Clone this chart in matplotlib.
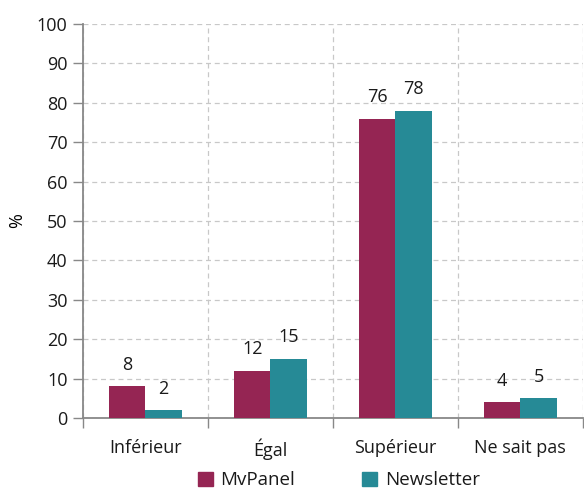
import numpy as np
from matplotlib import pyplot as plt
from matplotlib.patches import Patch

categories = ["Inférieur", "Égal", "Supérieur", "Ne sait pas"]
mvpanel = [8, 12, 76, 4]
newsletter = [2, 15, 78, 5]
series_names = ["MvPanel", "Newsletter"]
colors = ["#952553", "#268A96"]

plt.rcParams['font.family'] = ['Open Sans', 'DejaVu Sans']
plt.rcParams['text.color'] = "#1a1a1a"
plt.rcParams['xtick.labelcolor'] = "#1a1a1a"
plt.rcParams['ytick.labelcolor'] = "#1a1a1a"

fig = plt.figure(figsize=(5.84, 4.90), dpi=100)
ax = fig.add_axes([0.142, 0.147, 0.856, 0.804])

x = np.arange(len(categories))
w = 0.29
b1 = ax.bar(x - w/2, mvpanel, w, color=colors[0], zorder=3)
b2 = ax.bar(x + w/2, newsletter, w, color=colors[1], zorder=3)

# value labels above the bars
for bars, vals in [(b1, mvpanel), (b2, newsletter)]:
    for bar, v in zip(bars, vals):
        ax.annotate(str(v), (bar.get_x() + bar.get_width()/2, v),
                    xytext=(0, 9), textcoords="offset points",
                    ha="center", va="bottom", fontsize=13)

ax.set_xlim(-0.5, 3.5)
ax.set_ylim(0, 100)
ax.set_yticks(range(0, 101, 10))
ax.set_xticks(np.arange(-0.5, 3.6, 1.0))
ax.set_xticklabels([])
ax.set_xticks(x, minor=True)
ax.set_xticklabels(categories, minor=True)
ax.tick_params(axis="x", which="minor", length=0, pad=15, labelsize=13)
ax.tick_params(axis="x", which="major", length=7, color="#888888", width=1)
ax.tick_params(axis="y", length=7, color="#888888", width=1, labelsize=13, pad=4)

ax.grid(True, which="major", linestyle=(0, (4, 3)), color="#c8c8c8", linewidth=0.9, zorder=0)
for s in ["top", "right"]:
    ax.spines[s].set_visible(False)
for s in ["left", "bottom"]:
    ax.spines[s].set_color("#888888")
    ax.spines[s].set_linewidth(1.3)

ax.set_ylabel("%", fontsize=13, labelpad=8)

handles = [Patch(color=c, label=n) for c, n in zip(colors, series_names)]
fig.legend(handles=handles, loc="center", bbox_to_anchor=(0.58, 0.02),
           ncol=2, frameon=False, fontsize=13.5, handlelength=0.8, handleheight=0.8,
           columnspacing=3.6, handletextpad=0.4, borderpad=0)

fig.savefig("out.png", dpi=100)
